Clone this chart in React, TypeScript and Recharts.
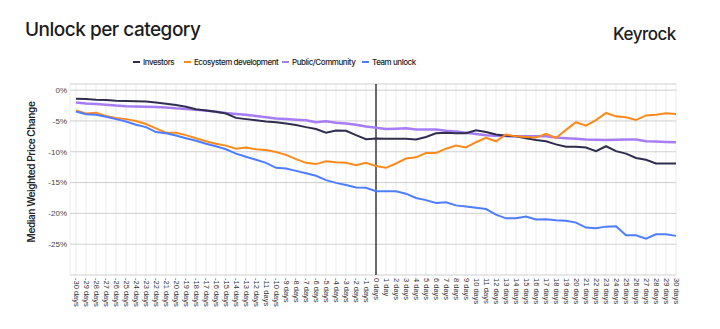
import { LineChart, Line, XAxis, YAxis, CartesianGrid, ReferenceLine } from 'recharts';

// x-axis categories, -30 days .. 30 days around the unlock
const dayLabels = [
  '-30 days', '-29 days', '-28 days', '-27 days', '-26 days', '-25 days', '-24 days', '-23 days', '-22 days', '-21 days',
  '-20 days', '-19 days', '-18 days', '-17 days', '-16 days', '-15 days', '-14 days', '-13 days', '-12 days', '-11 days',
  '-10 days', '-9 days', '-8 days', '-7 days', '-6 days', '-5 days', '-4 days', '-3 days', '-2 days', '-1 days',
  '0 days', '1 day', '2 days', '3 days', '4 days', '5 days', '6 days', '7 days', '8 days', '9 days', '10 days',
  '11 days', '12 days', '13 days', '14 days', '15 days', '16 days', '17 days', '18 days', '19 days', '20 days',
  '21 days', '22 days', '23 days', '24 days', '25 days', '26 days', '27 days', '28 days', '29 days', '30 days',
];

// median weighted price change, %
const investors = [
  -1.4, -1.45, -1.55, -1.6, -1.7, -1.75, -1.8, -1.85, -2.0, -2.2,
  -2.4, -2.7, -3.1, -3.3, -3.5, -3.8, -4.5, -4.7, -4.9, -5.1,
  -5.2, -5.4, -5.65, -6.0, -6.3, -6.9, -6.55, -6.6, -7.3, -7.95,
  -7.85, -7.9, -7.9, -7.9, -8.0, -7.6, -7.0, -6.9, -7.0, -7.0, -6.5,
  -6.8, -7.2, -7.4, -7.5, -7.8, -8.1, -8.3, -8.8, -9.2, -9.2,
  -9.3, -9.9, -9.1, -9.9, -10.3, -11.0, -11.3, -11.9, -11.9, -11.9,
];

const ecosystem = [
  -3.3, -3.8, -3.65, -4.2, -4.5, -4.7, -5.0, -5.5, -6.2, -6.9,
  -6.9, -7.3, -7.8, -8.3, -8.7, -9.0, -9.5, -9.3, -9.6, -9.7,
  -10.05, -10.5, -11.2, -11.8, -12.0, -11.55, -11.7, -11.8, -12.2, -11.8,
  -12.3, -12.6, -11.9, -11.1, -10.9, -10.2, -10.2, -9.5, -9.0, -9.3, -8.45,
  -7.75, -8.3, -7.2, -7.5, -7.6, -7.7, -7.1, -7.75, -6.45, -5.2,
  -5.75, -4.85, -3.7, -4.25, -4.4, -4.85, -4.1, -4.0, -3.75, -3.85,
];

const publicCommunity = [
  -2.0, -2.15, -2.25, -2.35, -2.5, -2.6, -2.65, -2.7, -2.75, -2.8,
  -2.95, -3.05, -3.2, -3.3, -3.5, -3.7, -3.85, -4.0, -4.2, -4.4,
  -4.6, -4.7, -4.8, -4.9, -5.2, -5.05, -5.3, -5.4, -5.6, -5.9,
  -6.1, -6.3, -6.25, -6.2, -6.4, -6.4, -6.4, -6.6, -6.7, -6.9, -7.1,
  -7.3, -7.4, -7.45, -7.5, -7.5, -7.5, -7.5, -7.7, -7.8, -7.9,
  -8.0, -8.05, -8.1, -8.05, -8.0, -8.0, -8.3, -8.35, -8.4, -8.45,
];

const teamUnlock = [
  -3.45, -3.9, -4.0, -4.3, -4.7, -5.1, -5.6, -6.0, -6.8, -7.0,
  -7.35, -7.8, -8.2, -8.7, -9.1, -9.6, -10.3, -10.8, -11.3, -11.8,
  -12.6, -12.7, -13.1, -13.5, -13.9, -14.6, -15.05, -15.4, -15.8, -15.85,
  -16.4, -16.4, -16.4, -16.8, -17.5, -17.85, -18.3, -18.2, -18.7, -18.9, -19.1,
  -19.3, -20.2, -20.8, -20.8, -20.5, -21.0, -20.95, -21.1, -21.2, -21.5,
  -22.3, -22.4, -22.15, -22.1, -23.55, -23.55, -24.1, -23.4, -23.4, -23.65,
];

const yTicks = [0, -5, -10, -15, -20, -25];

const data = dayLabels.map((day, i) => ({
  day,
  investors: investors[i],
  ecosystem: ecosystem[i],
  publicCommunity: publicCommunity[i],
  teamUnlock: teamUnlock[i],
}));

const SERIES = [
  { key: 'investors',       name: 'Investors',             color: '#2f2e4e', width: 2 },
  { key: 'ecosystem',       name: 'Ecosystem development', color: '#ff8a1c', width: 2 },
  { key: 'publicCommunity', name: 'Public/Community',      color: '#a67df6', width: 2.5 },
  { key: 'teamUnlock',      name: 'Team unlock',           color: '#4f7dff', width: 2 },
];

// drawing order: purple sits underneath the others
const DRAW_ORDER = ['publicCommunity', 'investors', 'ecosystem', 'teamUnlock'];

const SANS = 'Inter, "Noto Sans", sans-serif';

function DayTick({ x, y, payload }: any) {
  return (
    <text
      x={x}
      y={y}
      transform={`rotate(90, ${x}, ${y})`}
      textAnchor="start"
      dominantBaseline="central"
      fontSize={7.5}
      fontFamily='"Liberation Sans", Arial, sans-serif'
      fill="#333"
    >
      {payload.value}
    </text>
  );
}

// legend sits left of centre in the original, so place items by hand
const LEGEND_LEFT = [133, 184, 282, 362];

function LegendRow() {
  return (
    <div style={{ position: 'absolute', left: 0, top: 57, width: 720, height: 12, fontFamily: SANS }}>
      {SERIES.map((s, i) => (
        <div
          key={s.key}
          style={{ position: 'absolute', left: LEGEND_LEFT[i], top: 0, display: 'flex', alignItems: 'center', whiteSpace: 'nowrap' }}
        >
          <span style={{ display: 'inline-block', width: 7, height: 2, background: s.color, marginRight: 3 }} />
          <span style={{ fontSize: 8, fontWeight: 500, color: '#222', letterSpacing: -0.45 }}>{s.name}</span>
        </div>
      ))}
    </div>
  );
}

export default function App() {
  return (
    <div style={{ position: 'absolute', left: 0, top: 0, width: 720, height: 329, background: '#fff', overflow: 'hidden' }}>
      <div style={{ position: 'absolute', left: 25, top: 18, fontFamily: SANS, fontSize: 19, fontWeight: 500, color: '#1c1c1c', letterSpacing: -0.5 }}>
        Unlock per category
      </div>
      <div style={{ position: 'absolute', left: 613, top: 24, fontFamily: SANS, fontSize: 17, fontWeight: 500, color: '#1c1c1c', letterSpacing: -0.5 }}>
        Keyrock
      </div>
      <div
        style={{
          position: 'absolute', left: 31, top: 172, transform: 'translate(-50%, -50%) rotate(-90deg)',
          fontFamily: SANS, fontSize: 10, fontWeight: 600, color: '#222', whiteSpace: 'nowrap', letterSpacing: -0.4,
        }}
      >
        Median Weighted Price Change
      </div>
      <LegendRow />

      <LineChart width={720} height={329} data={data} margin={{ top: 84, right: 44, bottom: 0, left: 30 }}>
        <CartesianGrid horizontal={false} stroke="#ececec" />
        <CartesianGrid vertical={false} stroke="#cfcfcf" />
        <XAxis
          dataKey="day"
          interval={0}
          height={54}
          padding={{ left: 6, right: 0 }}
          axisLine={false}
          tickLine={false}
          tickSize={0}
          tickMargin={3}
          tick={<DayTick />}
        />
        <YAxis
          width={40}
          domain={[-30, 1]}
          ticks={yTicks}
          tickFormatter={(v) => `${v}%`}
          axisLine={false}
          tickLine={false}
          tickSize={0}
          tickMargin={3}
          tick={{ fontSize: 8, fill: '#444', fontFamily: '"Liberation Sans", Arial, sans-serif' }}
        />
        <ReferenceLine x="0 days" stroke="#3a3a3a" strokeWidth={1.5} />
        {DRAW_ORDER.map((k) => {
          const s = SERIES.find((x) => x.key === k)!;
          return (
            <Line
              key={s.key}
              type="linear"
              dataKey={s.key}
              name={s.name}
              stroke={s.color}
              strokeWidth={s.width}
              dot={false}
              activeDot={false}
              isAnimationActive={false}
            />
          );
        })}
      </LineChart>
    </div>
  );
}
